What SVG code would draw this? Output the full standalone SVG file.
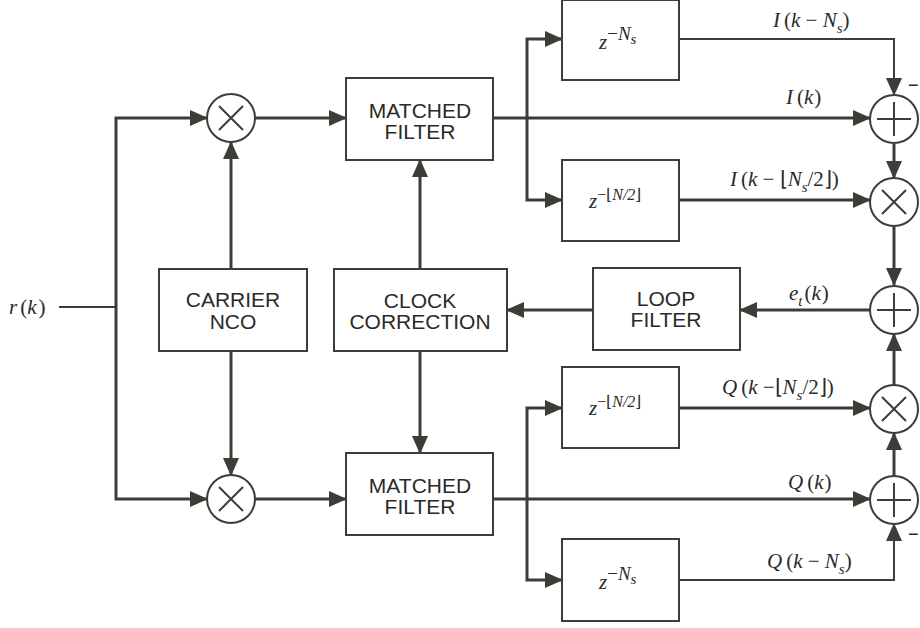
<svg xmlns="http://www.w3.org/2000/svg" width="920" height="628" viewBox="0 0 920 628">
<defs>
<marker id="ah" viewBox="0 0 18 16" refX="17" refY="8" markerWidth="18" markerHeight="16" markerUnits="userSpaceOnUse" orient="auto">
<path d="M0,0 L18,8 L0,16 z" fill="#3d3d38"/>
</marker>
</defs>
<style>
.box{fill:#fff;stroke:#3d3d38;stroke-width:2}
.lbl{font-family:"Liberation Sans",Arial,sans-serif;font-size:21px;fill:#2a2a28;text-anchor:middle}
.m{font-family:"Liberation Serif","Times New Roman",serif;font-style:italic;font-size:21px;fill:#2a2a28}
.n{font-style:normal}
.sub{font-size:15px}
.w{fill:none;stroke:#3d3d38;stroke-width:3}
.a{marker-end:url(#ah)}
.thin{stroke-width:2}
.j{fill:#fff;stroke:#3d3d38;stroke-width:2}
.sym{stroke:#3d3d38;stroke-width:2;fill:none}
.sign{font-family:"Liberation Sans",Arial,sans-serif;font-size:18px;fill:#2a2a28}
</style>
<rect width="920" height="628" fill="#fff"/>

<g id="connectors">
<path class="w thin" d="M59,307 H116"/>
<path class="w a" d="M116,307 V118 H207"/>
<path class="w a" d="M116,307 V499 H207"/>
<path class="w a" d="M231,269 V142"/>
<path class="w a" d="M231,351 V475"/>
<path class="w a" d="M255,118 H346"/>
<path class="w a" d="M255,499 H346"/>
<path class="w a" d="M420,269 V160"/>
<path class="w a" d="M420,351 V453"/>
<path class="w a" d="M493,118 H870"/>
<path class="w a" d="M527,118 V39 H562"/>
<path class="w a" d="M527,118 V200 H562"/>
<path class="w thin a" d="M679,39 H894 V95"/>
<path class="w a" d="M679,200 H870"/>
<path class="w a" d="M894,144 V178"/>
<path class="w a" d="M894,227 V285"/>
<path class="w a" d="M870,310 H740"/>
<path class="w a" d="M593,310 H507"/>
<path class="w a" d="M894,385 V334"/>
<path class="w a" d="M894,476 V433"/>
<path class="w a" d="M679,408 H870"/>
<path class="w a" d="M493,499 H870"/>
<path class="w a" d="M527,499 V408 H562"/>
<path class="w a" d="M527,499 V580 H562"/>
<path class="w thin a" d="M679,580 H894 V524"/>
</g>

<g id="input-label">
<text class="m" x="9" y="314">r<tspan class="n" dx="3">(</tspan>k<tspan class="n" dx="2">)</tspan></text>
</g>

<g id="mult-top">
<circle class="j" cx="231" cy="118" r="24"/>
<path class="sym" d="M219,106 L243,130 M243,106 L219,130"/>
</g>
<g id="mult-bottom">
<circle class="j" cx="231" cy="499" r="24"/>
<path class="sym" d="M219,487 L243,511 M243,487 L219,511"/>
</g>

<g id="carrier-nco">
<rect class="box" x="159" y="269" width="148" height="82"/>
<text class="lbl" x="233" y="307">CARRIER</text>
<text class="lbl" x="233" y="329">NCO</text>
</g>

<g id="matched-filter-top">
<rect class="box" x="346" y="78" width="147" height="82"/>
<text class="lbl" x="420" y="118">MATCHED</text>
<text class="lbl" x="420" y="139">FILTER</text>
</g>

<g id="clock-correction">
<rect class="box" x="334" y="269" width="173" height="82"/>
<text class="lbl" x="420" y="308">CLOCK</text>
<text class="lbl" x="420" y="329">CORRECTION</text>
</g>

<g id="matched-filter-bottom">
<rect class="box" x="346" y="453" width="147" height="82"/>
<text class="lbl" x="420" y="493">MATCHED</text>
<text class="lbl" x="420" y="514">FILTER</text>
</g>

<g id="loop-filter">
<rect class="box" x="593" y="268" width="147" height="82"/>
<text class="lbl" x="666" y="306">LOOP</text>
<text class="lbl" x="666" y="327">FILTER</text>
</g>

<g id="delay-i-ns">
<rect class="box" x="562" y="0" width="117" height="80"/>
<text class="m" x="599" y="49" font-size="17">z<tspan class="n" dy="-9" font-size="19">−</tspan><tspan font-size="19">N</tspan><tspan class="sub" dy="4">s</tspan></text>
</g>

<g id="delay-i-half">
<rect class="box" x="562" y="160" width="117" height="81"/>
<text class="m" x="589" y="208" font-size="17">z<tspan class="n" dy="-8" font-size="16">−⌊</tspan><tspan font-size="16">N/2</tspan><tspan class="n" font-size="16">⌋</tspan></text>
</g>

<g id="delay-q-half">
<rect class="box" x="562" y="367" width="117" height="81"/>
<text class="m" x="589" y="415" font-size="17">z<tspan class="n" dy="-8" font-size="16">−⌊</tspan><tspan font-size="16">N/2</tspan><tspan class="n" font-size="16">⌋</tspan></text>
</g>

<g id="delay-q-ns">
<rect class="box" x="562" y="539" width="117" height="82"/>
<text class="m" x="599" y="589" font-size="17">z<tspan class="n" dy="-9" font-size="19">−</tspan><tspan font-size="19">N</tspan><tspan class="sub" dy="4">s</tspan></text>
</g>

<g id="sum-i">
<circle class="j" cx="894" cy="119" r="24"/>
<path class="sym" d="M877,119 H911 M894,102 V136"/>
<text class="sign" x="908" y="91">−</text>
</g>
<g id="mult-i">
<circle class="j" cx="894" cy="202" r="24"/>
<path class="sym" d="M882,190 L906,214 M906,190 L882,214"/>
</g>
<g id="sum-e">
<circle class="j" cx="894" cy="310" r="24"/>
<path class="sym" d="M877,310 H911 M894,293 V327"/>
</g>
<g id="mult-q">
<circle class="j" cx="894" cy="409" r="24"/>
<path class="sym" d="M882,397 L906,421 M906,397 L882,421"/>
</g>
<g id="sum-q">
<circle class="j" cx="894" cy="500" r="24"/>
<path class="sym" d="M877,500 H911 M894,483 V517"/>
<text class="sign" x="908" y="540">−</text>
</g>

<g id="signal-labels">
<text class="m" x="773" y="27">I<tspan class="n" dx="4">(</tspan>k<tspan class="n"> − </tspan>N<tspan class="sub" dy="6">s</tspan><tspan class="n" dy="-6">)</tspan></text>
<text class="m" x="786" y="104">I<tspan class="n" dx="4">(</tspan>k<tspan class="n" dx="1">)</tspan></text>
<text class="m" x="730" y="186">I<tspan class="n" dx="4">(</tspan>k<tspan class="n"> − ⌊</tspan>N<tspan class="sub" dy="6">s</tspan><tspan class="n" dy="-6">/2⌋)</tspan></text>
<text class="m" x="789" y="300">e<tspan class="sub" dy="6">t</tspan><tspan class="n" dy="-6" dx="2">(</tspan>k<tspan class="n" dx="1">)</tspan></text>
<text class="m" x="722" y="394">Q<tspan class="n" dx="4">(</tspan>k<tspan class="n"> −⌊</tspan>N<tspan class="sub" dy="6">s</tspan><tspan class="n" dy="-6">/2⌋)</tspan></text>
<text class="m" x="788" y="489">Q<tspan class="n" dx="4">(</tspan>k<tspan class="n" dx="1">)</tspan></text>
<text class="m" x="767" y="568">Q<tspan class="n" dx="4">(</tspan>k<tspan class="n"> − </tspan>N<tspan class="sub" dy="6">s</tspan><tspan class="n" dy="-6">)</tspan></text>
</g>
</svg>
